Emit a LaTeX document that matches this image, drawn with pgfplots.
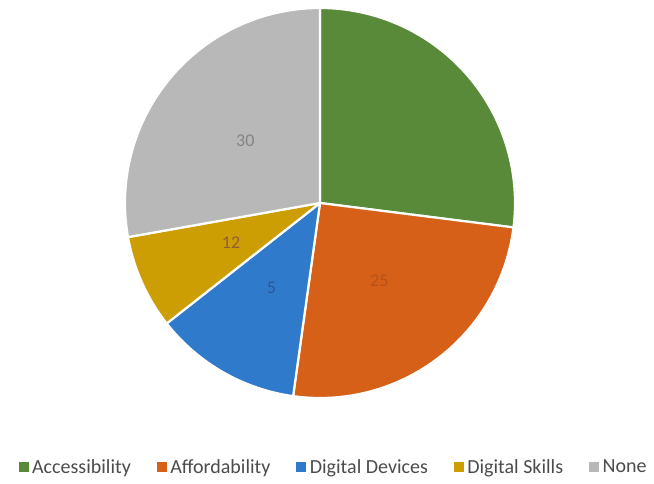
\documentclass[border=0pt]{standalone}
\usepackage{fontspec}
\setmainfont{Carlito}
\usepackage{pgfplots}
\usepackage{pgfplotstable}
\pgfplotsset{compat=1.18}

\definecolor{cAcc}{RGB}{88,138,58}
\definecolor{cAff}{RGB}{214,96,24}
\definecolor{cDev}{RGB}{48,122,204}
\definecolor{cSki}{RGB}{204,158,4}
\definecolor{cNon}{RGB}{184,184,184}
\definecolor{lAcc}{RGB}{88,138,58}
\definecolor{lAff}{RGB}{178,78,24}
\definecolor{lDev}{RGB}{40,80,140}
\definecolor{lSki}{RGB}{130,80,60}
\definecolor{lNon}{RGB}{120,120,120}

% share of each category in percent
\pgfplotstableread{
name value fillc labc lab
Accessibility 27.0 cAcc lAcc {}
Affordability 25.2 cAff lAff 25
Devices 12.2 cDev lDev 5
Skills 7.8 cSki lSki 12
None 27.8 cNon lNon 30
}\piedata

\begin{document}
\begin{tikzpicture}
\path[use as bounding box] (0,0) rectangle (654pt,483pt);
\begin{axis}[
    at={(320pt,280pt)}, anchor=center,
    scale only axis, width=390pt, height=390pt,
    xmin=-1, xmax=1, ymin=-1, ymax=1,
    hide axis, clip=false,
    legend columns=5,
    legend style={at={(0.535,-0.177)}, anchor=center, draw=none,
        font=\fontsize{20}{22}\selectfont, text=black!70,
        /tikz/every odd column/.append style={column sep=2pt},
        /tikz/every even column/.append style={column sep=24pt}},
    legend image code/.code={\fill[#1] (0pt,-4.5pt) rectangle (9pt,4.5pt);},
]
\def\cum{0}
\pgfplotsforeachungrouped \i in {0,...,4}{
    \pgfplotstablegetelem{\i}{value}\of\piedata \let\v\pgfplotsretval
    \pgfplotstablegetelem{\i}{fillc}\of\piedata \let\fc\pgfplotsretval
    \pgfplotstablegetelem{\i}{labc}\of\piedata \let\lc\pgfplotsretval
    \pgfplotstablegetelem{\i}{lab}\of\piedata \let\lb\pgfplotsretval
    \pgfmathsetmacro\a{90-3.6*\cum}
    \pgfmathsetmacro\b{90-3.6*(\cum+\v)}
    \pgfmathsetmacro\m{(\a+\b)/2}
    \pgfmathsetmacro\xa{cos(\a)}
    \pgfmathsetmacro\ya{sin(\a)}
    \pgfmathsetmacro\xm{0.5*cos(\m)}
    \pgfmathsetmacro\ym{0.5*sin(\m)}
    \edef\temp{
        \noexpand\fill[\fc, draw=white, line width=2.2pt, line join=round]
            (axis cs:0,0) -- (axis cs:\xa,\ya)
            arc[start angle=\a, end angle=\b, radius=195pt] -- cycle;
        \noexpand\node[text=\lc, opacity=0.8, font=\noexpand\fontsize{18}{20}\noexpand\selectfont]
            at (axis cs:\xm,\ym) {\lb};
    }
    \temp
    \pgfmathsetmacro\cum{\cum+\v}
}
\addlegendimage{cAcc}\addlegendentry{Accessibility}
\addlegendimage{cAff}\addlegendentry{Affordability}
\addlegendimage{cDev}\addlegendentry{Digital Devices}
\addlegendimage{cSki}\addlegendentry{Digital Skills}
\addlegendimage{cNon}\addlegendentry{None}
\end{axis}
\end{tikzpicture}
\end{document}
